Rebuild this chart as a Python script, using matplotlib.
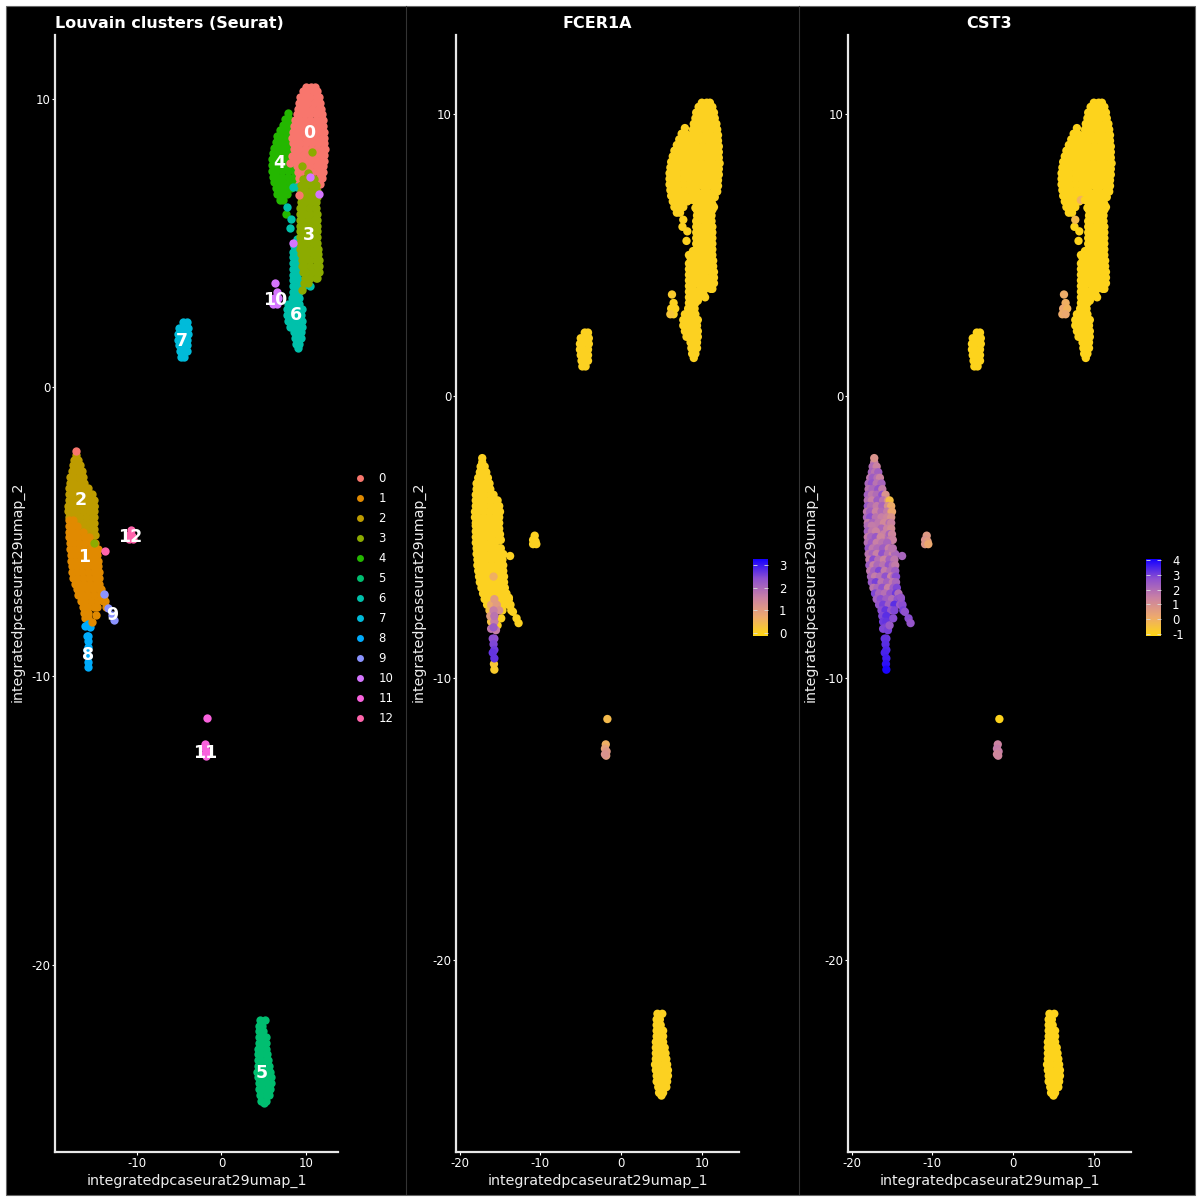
import numpy as np
import matplotlib
matplotlib.use("Agg")
import matplotlib.pyplot as plt
from matplotlib.colors import LinearSegmentedColormap, Normalize
from matplotlib.lines import Line2D
from matplotlib.patches import Rectangle

# cluster colours (ggplot hues)
cluster_colors = ['#F8766D', '#E18A00', '#BE9C00', '#8CAB00', '#24B700', '#00BE70', '#00C1AB',
                  '#00BBDA', '#00ACFC', '#8B93FF', '#D575FE', '#F962DD', '#FF65AC']

# umap points, each row is: y, then the x values on that row
c0_rows = [[10.4, 10.0, 10.6, 11.0], [10.25, 9.6, 10.1, 10.8, 11.3], [10.05, 9.3, 9.8, 10.5, 11.2, 11.5],
           [9.85, 9.2, 9.6, 10.2, 10.9, 11.5, 11.6], [9.65, 9.0, 9.4, 10.0, 10.7, 11.4, 11.8],
           [9.45, 8.9, 9.3, 9.8, 10.5, 11.2, 11.8, 11.9], [9.25, 8.7, 9.1, 9.7, 10.4, 11.1, 11.8, 12.0],
           [9.05, 8.5, 8.9, 9.4, 10.1, 10.8, 11.5, 12.0], [8.85, 8.4, 8.8, 9.3, 10.0, 10.7, 11.4, 12.0, 12.1],
           [8.65, 8.3, 8.7, 9.1, 9.8, 10.5, 11.2, 11.9, 12.1], [8.45, 8.4, 8.7, 9.3, 10.0, 10.7, 11.4, 12.1],
           [8.25, 8.5, 8.8, 9.2, 9.9, 10.6, 11.3, 12.0, 12.2], [8.05, 8.6, 8.9, 9.6, 10.3, 11.0, 11.7, 12.1],
           [7.85, 8.8, 9.2, 9.9, 10.6, 11.3, 12.0, 12.1], [7.65, 8.9, 9.1, 9.7, 10.4, 11.1, 11.8, 12.0],
           [7.45, 9.0, 9.4, 10.1, 10.8, 11.5, 12.0], [7.25, 9.1, 9.3, 11.5, 11.9], [7.05, 9.2, 9.5, 11.6],
           [6.85, 9.4, 11.2], [6.6, 9.4]]
c1_rows = [[-4.6, -18.0, -17.5], [-4.8, -18.0, -17.5, -17.0], [-5.0, -18.0, -17.6, -17.0, -16.4],
           [-5.2, -18.0, -17.5, -16.9, -16.2, -15.6], [-5.4, -17.9, -17.4, -16.8, -16.1, -15.4, -14.9],
           [-5.6, -17.9, -17.4, -16.9, -16.2, -15.5, -14.9, -14.6], [-5.8, -17.8, -17.3, -16.7, -16.0, -15.3, -14.7],
           [-6.0, -17.8, -17.3, -16.8, -16.1, -15.4, -14.9, -14.6], [-6.2, -17.7, -17.2, -16.6, -15.9, -15.2, -14.6],
           [-6.4, -17.6, -17.1, -16.5, -15.8, -15.1, -14.7, -14.5], [-6.6, -17.5, -17.0, -16.3, -15.6, -14.9, -14.5],
           [-6.8, -17.3, -16.8, -16.2, -15.5, -14.8, -14.4], [-7.0, -17.1, -16.6, -15.9, -15.2, -14.5, -14.2],
           [-7.2, -16.9, -16.4, -15.7, -15.0, -14.3, -13.9], [-7.4, -16.6, -16.1, -15.4, -14.7, -14.0, -13.7],
           [-7.6, -16.3, -15.8, -15.1, -14.7, -13.6], [-7.8, -16.2, -15.7], [-8.0, -16.1, -15.7]]
c2_rows = [[-2.35, -17.2], [-2.5, -17.4, -16.9], [-2.7, -17.5, -17.1, -16.7], [-2.9, -17.7, -17.4, -16.8, -16.5],
           [-3.1, -17.9, -17.5, -16.9, -16.3], [-3.3, -17.9, -17.4, -16.7, -16.2],
           [-3.5, -18.0, -17.5, -16.9, -16.2, -15.8], [-3.7, -18.0, -17.5, -16.8, -16.1, -15.5, -15.3],
           [-3.9, -18.0, -17.6, -16.9, -16.2, -15.5, -15.1], [-4.1, -18.1, -17.7, -17.0, -16.3, -15.6, -15.1, -15.0],
           [-4.3, -18.1, -17.7, -17.0, -16.3, -15.6, -15.1], [-4.5, -18.0, -17.4, -16.7, -16.0, -15.3, -15.1],
           [-4.7, -17.7, -17.0, -16.3, -15.6, -15.1], [-4.9, -16.7, -16.0, -15.3, -15.0], [-5.1, -15.9, -15.2, -14.9]]
c3_rows = [[7.2, 9.6, 10.3, 10.9], [7.0, 9.4, 10.0, 10.7, 11.2], [6.8, 9.4, 9.9, 10.6, 11.2, 11.3],
           [6.6, 9.4, 9.6, 10.3, 11.0, 11.3], [6.4, 9.4, 9.9, 10.6, 11.2], [6.2, 9.3, 9.6, 10.3, 11.0, 11.2],
           [6.0, 9.3, 9.8, 10.5, 11.2, 11.3], [5.8, 9.3, 9.5, 10.2, 10.9, 11.3], [5.6, 9.3, 9.7, 10.4, 11.1, 11.3],
           [5.4, 9.3, 9.4, 10.1, 10.8, 11.3], [5.2, 9.3, 9.7, 10.4, 11.1, 11.3], [5.0, 9.3, 9.5, 10.1, 10.8, 11.3],
           [4.8, 9.3, 9.7, 10.4, 11.1, 11.4], [4.6, 9.4, 9.6, 10.1, 10.8, 11.4], [4.4, 9.5, 9.8, 10.5, 11.2, 11.5],
           [4.2, 9.5, 9.7, 10.4, 11.1, 11.5], [4.0, 9.6, 10.0, 10.7, 11.3, 11.5], [3.8, 9.8, 10.4, 11.1, 11.3],
           [3.6, 9.7, 10.2], [3.38, 9.5]]
c4_rows = [[9.5, 7.9], [9.3, 7.5, 8.0], [9.1, 7.2, 7.6, 8.2], [8.9, 6.9, 7.2, 7.9], [8.7, 6.6, 6.9, 7.6, 8.2],
           [8.5, 6.4, 6.8, 7.4, 8.1], [8.3, 6.2, 6.6, 7.2, 7.9, 8.3], [8.1, 6.1, 6.5, 7.1, 7.8, 8.4],
           [7.9, 6.0, 6.4, 7.0, 7.7, 8.4], [7.7, 6.0, 6.4, 7.0, 7.7, 8.4, 8.7], [7.5, 6.0, 6.4, 7.1, 7.8, 8.5, 8.9],
           [7.3, 6.1, 6.5, 7.1, 7.8, 8.5, 9.0], [7.1, 6.2, 6.7, 7.3, 8.0, 8.7], [6.9, 6.4, 6.9, 7.5, 8.2],
           [6.7, 6.6, 7.1, 7.7], [6.5, 6.9, 7.3], [6.0, 7.6]]
c5_rows = [[-21.9, 4.5, 5.1], [-22.1, 4.4, 4.8], [-22.3, 4.4, 4.9], [-22.5, 4.4, 4.7, 5.2], [-22.7, 4.4, 4.8, 5.2],
           [-22.9, 4.3, 4.6, 5.2], [-23.1, 4.3, 4.7, 5.2, 5.4], [-23.3, 4.3, 4.6, 5.2, 5.5], [-23.5, 4.3, 4.7, 5.3, 5.6],
           [-23.7, 4.2, 4.6, 5.3, 5.7], [-23.9, 4.3, 4.7, 5.3, 5.8], [-24.1, 4.4, 4.8, 5.4, 5.8],
           [-24.3, 4.4, 4.9, 5.5, 5.7], [-24.5, 4.6, 5.2, 5.6], [-24.7, 4.7, 5.2], [-24.8, 5.0]]
c6_rows = [[6.95, 8.4, 8.9], [6.25, 7.7], [5.84, 8.2], [5.5, 8.1], [5.14, 8.9], [4.9, 8.6], [4.7, 8.4, 8.9],
           [4.5, 8.4, 8.8], [4.3, 8.4, 8.9], [4.1, 8.4, 8.8, 9.2], [3.9, 8.4, 8.9], [3.7, 8.4, 8.9, 9.2],
           [3.5, 8.4, 8.9, 9.6, 10.4], [3.3, 8.4, 8.8, 9.2], [3.1, 8.3, 8.7, 9.1], [2.9, 7.9, 8.3, 8.9, 9.2],
           [2.7, 7.7, 8.1, 8.7, 9.3, 9.5], [2.5, 7.7, 8.1, 8.8, 9.4], [2.3, 7.9, 8.3, 9.0, 9.5], [2.1, 8.1, 8.6, 9.3, 9.5],
           [1.9, 8.6, 9.0, 9.4], [1.7, 8.7, 9.2, 9.4], [1.5, 8.8, 9.2], [1.35, 9.0]]
c7_rows = [[2.25, -4.5, -4.1], [2.05, -5.0, -4.5, -4.0], [1.85, -5.1, -4.7, -4.0], [1.65, -5.1, -4.7, -4.1],
           [1.45, -5.0, -4.6, -4.1], [1.25, -4.9, -4.4, -4.1], [1.05, -4.8, -4.4]]
c8_rows = [[-8.2, -15.8], [-8.25, -16.1], [-8.3, -15.5], [-8.6, -15.7, -15.9], [-8.8, -15.8], [-9.0, -15.7],
           [-9.1, -15.9], [-9.3, -15.7], [-9.5, -15.75], [-9.7, -15.7]]
c9_rows = [[-7.15, -13.9], [-7.65, -13.4], [-7.88, -12.95], [-8.05, -12.7]]
c10_rows = [[3.6, 6.3], [3.3, 6.5], [3.1, 6.2, 6.7], [2.9, 6.1, 6.5]]
c11_rows = [[-11.45, -1.7], [-12.35, -1.9], [-12.5, -2.0], [-12.6, -1.8], [-12.7, -2.0], [-12.75, -1.85]]
c12_rows = [[-4.95, -10.7], [-5.1, -10.9], [-5.15, -10.6], [-5.25, -10.9, -10.5]]
all_rows = [c0_rows, c1_rows, c2_rows, c3_rows, c4_rows, c5_rows, c6_rows, c7_rows, c8_rows, c9_rows,
            c10_rows, c11_rows, c12_rows]

# single points lying on top of other clusters: x, y, cluster
stray_x = [-17.2, -15.0, -13.75, -14.85, -15.3, 10.7, 9.5, 10.2, 9.2, 8.1, 8.3, 10.4, 11.5, 8.4]
stray_y = [-2.2, -5.4, -5.67, -7.88, -8.13, 8.15, 7.67, 7.43, 6.67, 7.78, 8.0, 7.3, 6.7, 5.0]
stray_cluster = [0, 3, 12, 1, 1, 3, 3, 3, 0, 0, 0, 10, 10, 10]

# CST3 in clusters 1 and 2, same layout as the rows above
cst3_c1 = [[2.0, 1.6], [2.3, 1.7, 1.4], [1.6, 2.1, 2.5, 1.3], [1.9, 2.4, 1.5, 1.8, 2.2], [2.6, 1.7, 2.0, 2.4, 1.5, 1.9],
           [1.8, 2.2, 1.5, 2.7, 1.9, 1.4, 2.1], [1.6, 2.8, 1.9, 1.4, 2.3, 1.7], [2.4, 1.5, 2.1, 1.8, 2.6, 2.0, 1.6],
           [1.7, 2.3, 2.9, 1.6, 2.0, 2.4], [2.2, 1.6, 1.9, 2.7, 1.4, 2.1, 2.8], [2.5, 3.0, 1.8, 2.3, 1.7, 2.2],
           [1.8, 2.1, 2.7, 1.5, 2.4, 2.9], [2.9, 2.2, 1.9, 2.6, 3.1, 2.0], [2.3, 2.8, 2.4, 2.0, 2.7, 3.0],
           [2.6, 3.0, 2.3, 3.3, 2.5, 2.8], [2.8, 3.2, 2.6, 2.9, 3.0], [2.9, 3.3], [3.1, 3.2]]
cst3_c2 = [[1.5], [2.0, 1.4], [2.2, 1.8, 2.3], [1.7, 2.4, 1.9, 1.4], [2.1, 2.6, 1.8, 2.2], [1.8, 2.1, 2.6, 1.6],
           [2.3, 1.7, 2.0, 2.7, 0.9], [1.9, 1.5, 2.4, 1.8, 1.1, -0.4], [2.5, 2.0, 1.6, 2.2, 1.0, 0.1],
           [1.7, 2.3, 1.4, 2.0, 1.6, 0.8, 0.2], [2.1, 2.7, 1.8, 1.5, 1.3, 0.9], [1.6, 2.2, 1.7, 1.2, 1.9, 1.4],
           [2.4, 1.7, 2.1, 1.4, 1.1], [1.8, 1.5, 2.2, 1.3], [2.0, 1.6, 1.4]]
# other expressing points, everything not listed sits at the bottom of the scale
cst3_other = {(-15.8, -8.2): 3.0, (-16.1, -8.25): 2.9, (-15.5, -8.3): 3.0, (-15.7, -8.6): 3.1, (-15.9, -8.6): 3.2,
              (-15.8, -8.8): 3.3, (-15.7, -9.0): 3.4, (-15.9, -9.1): 3.5, (-15.7, -9.3): 3.6, (-15.75, -9.5): 3.8,
              (-15.7, -9.7): 4.0, (-13.9, -7.15): 2.6, (-13.4, -7.65): 2.7, (-12.95, -7.88): 2.8, (-12.7, -8.05): 2.6,
              (6.3, 3.6): 0.1, (6.5, 3.3): 0.0, (6.2, 3.1): 0.2, (6.7, 3.1): -0.1, (6.1, 2.9): 0.1, (6.5, 2.9): 0.2,
              (-1.9, -12.35): 1.4, (-2.0, -12.5): 1.6, (-1.8, -12.6): 1.5, (-2.0, -12.7): 1.2, (-1.85, -12.75): 1.3,
              (-10.7, -4.95): 0.7, (-10.9, -5.1): 0.9, (-10.6, -5.15): 0.6, (-10.9, -5.25): 0.8, (-10.5, -5.25): 0.2,
              (-14.85, -7.88): 2.8, (-15.3, -8.13): 2.5, (8.4, 6.95): -0.1, (7.7, 6.25): -0.3,
              (-17.2, -2.2): 0.9, (-15.0, -5.4): 1.8, (-13.75, -5.67): 2.2}
fcer1a_points = {(-15.8, -6.4): 0.6, (-15.7, -7.2): 1.0, (-16.1, -7.4): 0.7, (-15.4, -7.4): 1.0, (-16.3, -7.6): 0.3,
                 (-15.8, -7.6): 1.6, (-15.1, -7.6): 1.2, (-16.2, -7.8): 1.0, (-15.7, -7.8): 1.8, (-16.1, -8.0): 0.3,
                 (-15.7, -8.0): 1.6, (-15.8, -8.2): 2.2, (-16.1, -8.25): 1.7, (-15.5, -8.3): 1.6, (-15.7, -8.6): 2.3,
                 (-15.9, -8.6): 2.4, (-15.8, -8.8): 2.5, (-15.7, -9.0): 2.6, (-15.9, -9.1): 2.7, (-15.7, -9.3): 2.7,
                 (-15.75, -9.5): 0.2, (-15.7, -9.7): 0.1, (-1.7, -11.45): 0.4, (-1.9, -12.35): 0.6, (-2.0, -12.5): 0.9,
                 (-1.8, -12.6): 1.1, (-2.0, -12.7): 1.2, (-1.85, -12.75): 1.0, (6.3, 3.6): 0.1, (6.1, 2.9): 0.2}

label_names = ['0', '1', '2', '3', '4', '5', '6', '7', '8', '9', '10', '11', '12']
label_x = [10.35, -16.2, -16.6, 10.35, 6.8, 4.8, 8.8, -4.66, -15.76, -12.9, 6.3, -1.95, -10.8]
label_y = [8.8, -5.87, -3.9, 5.28, 7.78, -23.75, 2.5, 1.6, -9.27, -7.88, 3.03, -12.66, -5.18]

xticks_first = [-10, 0, 10]
xticks_other = [-20, -10, 0, 10]
yticks = [-20, -10, 0, 10]
x_name = 'integratedpcaseurat29umap_1'
y_name = 'integratedpcaseurat29umap_2'


def expand(rows):
    xs, ys = [], []
    for r in rows:
        for x in r[1:]:
            xs.append(x)
            ys.append(r[0])
    return xs, ys


def px_axes(fig, left, top, right, bottom):
    return fig.add_axes([left / 1200, 1 - bottom / 1200, (right - left) / 1200, (bottom - top) / 1200])


def style_axes(ax, xlim, ylim, xticks):
    ax.set_facecolor('none')
    ax.set_xlim(xlim)
    ax.set_ylim(ylim)
    ax.set_xticks(xticks)
    ax.set_yticks(yticks)
    ax.spines['top'].set_visible(False)
    ax.spines['right'].set_visible(False)
    ax.spines['left'].set_color('#e8e8e8')
    ax.spines['bottom'].set_color('#e8e8e8')
    ax.spines['left'].set_linewidth(1.6)
    ax.spines['bottom'].set_linewidth(1.6)
    ax.tick_params(colors='white', length=2, width=0.8, labelsize=8.4, pad=1.5)
    ax.set_xlabel(x_name, color='#eeeeee', fontsize=10.3)
    ax.set_ylabel(y_name, color='#eeeeee', fontsize=10.3)
    ax.xaxis.set_label_coords(0.5, -0.0197)
    ax.yaxis.set_label_coords(-0.109, 0.502)


plt.rcParams['font.family'] = 'DejaVu Sans'
plt.rcParams['axes.unicode_minus'] = False
fig = plt.figure(figsize=(12, 12), dpi=100, facecolor='white')

# black plot background and the faint lines between the panels
fig.add_artist(Rectangle((5.5 / 1200, 5.5 / 1200), 1189 / 1200, 1189 / 1200, transform=fig.transFigure,
                         facecolor='black', edgecolor='#666666', linewidth=0.8, zorder=-2))
fig.add_artist(Line2D([405.5 / 1200] * 2, [6 / 1200, 1194 / 1200], color='#333333', linewidth=0.8, zorder=-1))
fig.add_artist(Line2D([798.5 / 1200] * 2, [6 / 1200, 1194 / 1200], color='#333333', linewidth=0.8, zorder=-1))

dot = 36
gene_cmap = LinearSegmentedColormap.from_list(
    'gold_blue', ['#FFD714', '#EDA96E', '#C981A4', '#8D4FD0', '#1400FF'])

# panel 1, clusters
ax1 = px_axes(fig, 55, 35, 338, 1152)
style_axes(ax1, (-19.65, 13.75), (-26.48, 12.2), xticks_first)
for k in [4, 0, 6, 3, 5, 7, 2, 1, 8, 9, 10, 11, 12]:
    xs, ys = expand(all_rows[k])
    ax1.scatter(xs, ys, s=dot, color=cluster_colors[k], linewidths=0)
for x, y, k in zip(stray_x, stray_y, stray_cluster):
    ax1.scatter([x], [y], s=dot, color=cluster_colors[k], linewidths=0)
for name, x, y in zip(label_names, label_x, label_y):
    ax1.text(x, y, name, color='white', fontsize=12.5, fontweight='bold', ha='center', va='center')
ax1.set_title('Louvain clusters (Seurat)', color='white', fontsize=11.5, fontweight='bold', loc='left', pad=5)
handles = [Line2D([], [], linestyle='none', marker='o', markersize=5, markerfacecolor=c, markeredgewidth=0)
           for c in cluster_colors]
ax1.legend(handles, label_names, frameon=False, labelcolor='white', fontsize=8.4, labelspacing=0.6,
           handletextpad=1.1, handlelength=1.0, borderpad=0, borderaxespad=0,
           loc='upper left', bbox_to_anchor=((354 - 55) / 283, 1 - (472 - 35) / 1117))

# all points in the same order for the two gene panels
px, py = [], []
for k in [4, 0, 6, 3, 5, 7, 2, 1, 8, 9, 10, 11, 12]:
    xs, ys = expand(all_rows[k])
    px += xs
    py += ys
px += stray_x
py += stray_y

cst3_lookup = dict(cst3_other)
for rows, vals in [(c1_rows, cst3_c1), (c2_rows, cst3_c2)]:
    xs, ys = expand(rows)
    flat = [v for r in vals for v in r]
    assert len(flat) == len(xs)
    for x, y, v in zip(xs, ys, flat):
        cst3_lookup[(x, y)] = v

fcer1a_vals = np.array([fcer1a_points.get(p, 0.0) for p in zip(px, py)])
cst3_vals = np.array([cst3_lookup.get(p, -1.0) for p in zip(px, py)])
px = np.array(px)
py = np.array(py)


def gene_panel(left, right, title, vals, vmin, vmax, sort_vals, ticks, cbar_left):
    ax = px_axes(fig, left, 35, right, 1152)
    style_axes(ax, (-20.45, 14.6), (-26.8, 12.8), xticks_other)
    order = np.argsort(vals, kind='stable') if sort_vals else np.arange(len(vals))
    sc = ax.scatter(px[order], py[order], c=vals[order], s=dot, cmap=gene_cmap,
                    norm=Normalize(vmin, vmax), linewidths=0)
    ax.set_title(title, color='white', fontsize=11.5, fontweight='bold', pad=5)
    cax = px_axes(fig, cbar_left, 559, cbar_left + 15, 636)
    cb = fig.colorbar(sc, cax=cax, ticks=ticks)
    cb.outline.set_visible(False)
    cax.tick_params(left=True, right=True, direction='in', length=3, width=0.6, color='#dddddd',
                    labelcolor='white', labelsize=8.4, pad=8)


gene_panel(456, 739, 'FCER1A', fcer1a_vals, -0.13, 3.26, True, [0, 1, 2, 3], 753)
gene_panel(848, 1131, 'CST3', cst3_vals, -1.13, 4.07, False, [-1, 0, 1, 2, 3, 4], 1146)

plt.savefig('out.png', dpi=100, facecolor='white')
